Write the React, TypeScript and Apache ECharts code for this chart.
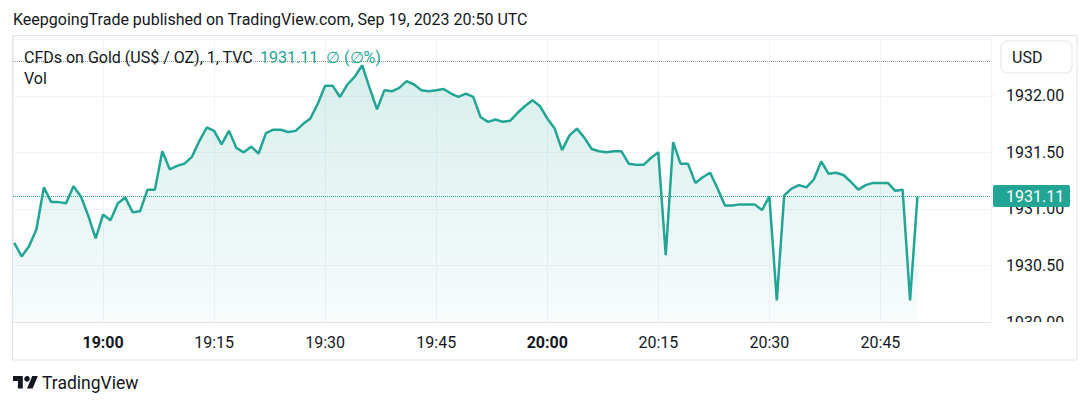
import React, { useEffect, useRef } from 'react';
import * as echarts from 'echarts';

const START_TIME = '2023-09-19T18:48:00';
const STEP_MS = 60 * 1000;

const prices = [
  1930.70, 1930.58, 1930.67, 1930.82, 1931.19, 1931.06, 1931.06, 1931.05, 1931.20, 1931.11,
  1930.94, 1930.74, 1930.95, 1930.90, 1931.05, 1931.10, 1930.97, 1930.98, 1931.17, 1931.17,
  1931.51, 1931.35, 1931.38, 1931.40, 1931.46, 1931.60, 1931.72, 1931.69, 1931.57, 1931.69,
  1931.54, 1931.50, 1931.55, 1931.49, 1931.67, 1931.70, 1931.70, 1931.68, 1931.69, 1931.75,
  1931.80, 1931.93, 1932.09, 1932.09, 1931.99, 1932.10, 1932.17, 1932.27, 1932.07, 1931.88,
  1932.05, 1932.04, 1932.07, 1932.13, 1932.10, 1932.05, 1932.04, 1932.05, 1932.06, 1932.02,
  1931.99, 1932.02, 1931.99, 1931.81, 1931.77, 1931.79, 1931.77, 1931.78, 1931.85, 1931.91,
  1931.96, 1931.91, 1931.80, 1931.71, 1931.52, 1931.65, 1931.71, 1931.63, 1931.53, 1931.51,
  1931.50, 1931.51, 1931.51, 1931.40, 1931.39, 1931.39, 1931.45, 1931.50, 1930.59, 1931.59,
  1931.40, 1931.40, 1931.23, 1931.28, 1931.32, 1931.18, 1931.03, 1931.03, 1931.04, 1931.04,
  1931.04, 1930.99, 1931.11, 1930.19, 1931.12, 1931.18, 1931.21, 1931.19, 1931.26, 1931.42,
  1931.31, 1931.32, 1931.30, 1931.24, 1931.17, 1931.21, 1931.23, 1931.23, 1931.23, 1931.16,
  1931.17, 1930.19, 1931.11,
];

const lastPrice = 1931.11;
const highLine = 1932.31;
const yMin = 1930;
const yMax = 1932.52;
const yInterval = 0.5;

const headerText = 'KeepgoingTrade published on TradingView.com, Sep 19, 2023 20:50 UTC';
const symbolText = 'CFDs on Gold (US$ / OZ), 1, TVC';
const valueText = '1931.11  ∅ (∅%)';
const volText = 'Vol';
const currencyText = 'USD';
const brandText = 'TradingView';

const TEAL = '#22a594';
const TEXT = '#131722';
const FONT = 'Roboto, "Noto Sans", sans-serif';

let registered = false;

export default function App() {
  const ref = useRef<HTMLDivElement>(null);

  useEffect(() => {
    document.body.style.margin = '0';
    if (!registered) {
      echarts.graphic.registerShape(
        'logo',
        echarts.graphic.extendPath('M14 22H7V11H0V4h14v18zM28 22h-8l7.5-18h8L28 22z', {})
      );
      registered = true;
    }
    const chart = echarts.init(ref.current!, undefined, { renderer: 'svg' });
    const startMs = new Date(START_TIME).getTime();
    const data = prices.map((p, i) => [startMs + i * STEP_MS, p]);
    const xMin = startMs - 10 * 1000;
    const xMax = xMin + 132.1 * 60 * 1000;

    const pad = (n: number) => (n < 10 ? '0' + n : '' + n);

    chart.setOption({
      animation: false,
      textStyle: { fontFamily: FONT },
      grid: { left: 13, top: 37, width: 978, height: 285, containLabel: false },
      xAxis: {
        type: 'time',
        min: xMin,
        max: xMax,
        minInterval: 17 * 60 * 1000,
        maxInterval: 17 * 60 * 1000,
        axisLine: { show: true, lineStyle: { color: '#e0e3eb' } },
        axisTick: { show: false },
        splitLine: { show: true, lineStyle: { color: '#f0f3fa' } },
        axisLabel: {
          color: TEXT,
          fontSize: 16,
          fontFamily: FONT,
          margin: 12,
          hideOverlap: false,
          formatter: (v: number) => {
            const d = new Date(v);
            const s = pad(d.getHours()) + ':' + pad(d.getMinutes());
            return d.getMinutes() === 0 ? '{b|' + s + '}' : s;
          },
          rich: {
            b: { fontWeight: 'bold', fontSize: 16, color: TEXT, fontFamily: FONT },
          },
        },
      },
      yAxis: {
        type: 'value',
        position: 'right',
        min: yMin,
        max: yMax,
        interval: yInterval,
        axisLine: { show: false },
        axisTick: { show: false },
        splitLine: { show: true, lineStyle: { color: '#f0f3fa' } },
        axisLabel: {
          color: TEXT,
          fontSize: 16,
          fontFamily: FONT,
          margin: 15,
          formatter: (v: number) => (v > 1932.01 ? '' : v.toFixed(2)),
        },
      },
      series: [
        {
          type: 'line',
          data,
          showSymbol: false,
          symbol: 'none',
          lineStyle: { color: TEAL, width: 2.5 },
          itemStyle: { color: TEAL },
          areaStyle: {
            color: new echarts.graphic.LinearGradient(0, 0, 0, 1, [
              { offset: 0, color: 'rgba(38,166,154,0.26)' },
              { offset: 1, color: 'rgba(38,166,154,0.05)' },
            ]),
          },
          markLine: {
            silent: true,
            symbol: 'none',
            label: { show: false },
            data: [
              { yAxis: lastPrice, lineStyle: { color: TEAL, type: 'dotted', width: 1 } },
              { yAxis: highLine, lineStyle: { color: '#9598a1', type: 'dotted', width: 1 } },
            ],
          },
        },
      ],
      graphic: [
        {
          type: 'rect',
          z: -1,
          shape: { x: 12.5, y: 35.5, width: 1064.5, height: 324.5 },
          style: { fill: 'none', stroke: '#e0e3eb', lineWidth: 1 },
        },
        {
          type: 'line',
          z: -1,
          shape: { x1: 991, y1: 95, x2: 995, y2: 95 },
          style: { stroke: '#f0f3fa', lineWidth: 1 },
        },
        {
          type: 'text',
          x: 13,
          y: 19,
          style: { text: headerText, fill: TEXT, font: '16px ' + FONT, verticalAlign: 'middle' },
        },
        {
          type: 'text',
          x: 24,
          y: 57,
          z: 10,
          style: { text: symbolText, fill: TEXT, font: '16px ' + FONT, verticalAlign: 'middle' },
        },
        {
          type: 'text',
          x: 260,
          y: 57,
          z: 10,
          style: { text: valueText, fill: TEAL, font: '16px ' + FONT, verticalAlign: 'middle' },
        },
        {
          type: 'text',
          x: 24,
          y: 78,
          z: 10,
          style: { text: volText, fill: TEXT, font: '16px ' + FONT, verticalAlign: 'middle' },
        },
        {
          type: 'rect',
          z: 10,
          shape: { x: 1001, y: 41, width: 71, height: 32, r: 6 },
          style: { fill: '#ffffff', stroke: '#e0e3eb', lineWidth: 1 },
        },
        {
          type: 'text',
          x: 1012,
          y: 57,
          z: 11,
          style: { text: currencyText, fill: TEXT, font: '16px ' + FONT, verticalAlign: 'middle' },
        },
        {
          type: 'rect',
          z: 20,
          shape: { x: 998, y: 322, width: 78, height: 14 },
          style: { fill: '#ffffff' },
        },
        {
          type: 'rect',
          z: 21,
          shape: { x: 993, y: 185, width: 77, height: 22, r: 2 },
          style: { fill: TEAL },
        },
        {
          type: 'text',
          x: 1006,
          y: 196,
          z: 22,
          style: { text: lastPrice.toFixed(2), fill: '#ffffff', font: '16px ' + FONT, verticalAlign: 'middle' },
        },
        {
          type: 'logo',
          x: 13,
          y: 373.2,
          scaleX: 0.7,
          scaleY: 0.7,
          style: { fill: TEXT },
        },
        {
          type: 'circle',
          shape: { cx: 27, cy: 378.8, r: 2.8 },
          style: { fill: TEXT },
        },
        {
          type: 'text',
          x: 42,
          y: 383,
          style: { text: brandText, fill: TEXT, font: '17.5px ' + FONT, verticalAlign: 'middle' },
        },
      ],
    });

    return () => chart.dispose();
  }, []);

  return <div ref={ref} style={{ width: 1090, height: 407 }} />;
}
